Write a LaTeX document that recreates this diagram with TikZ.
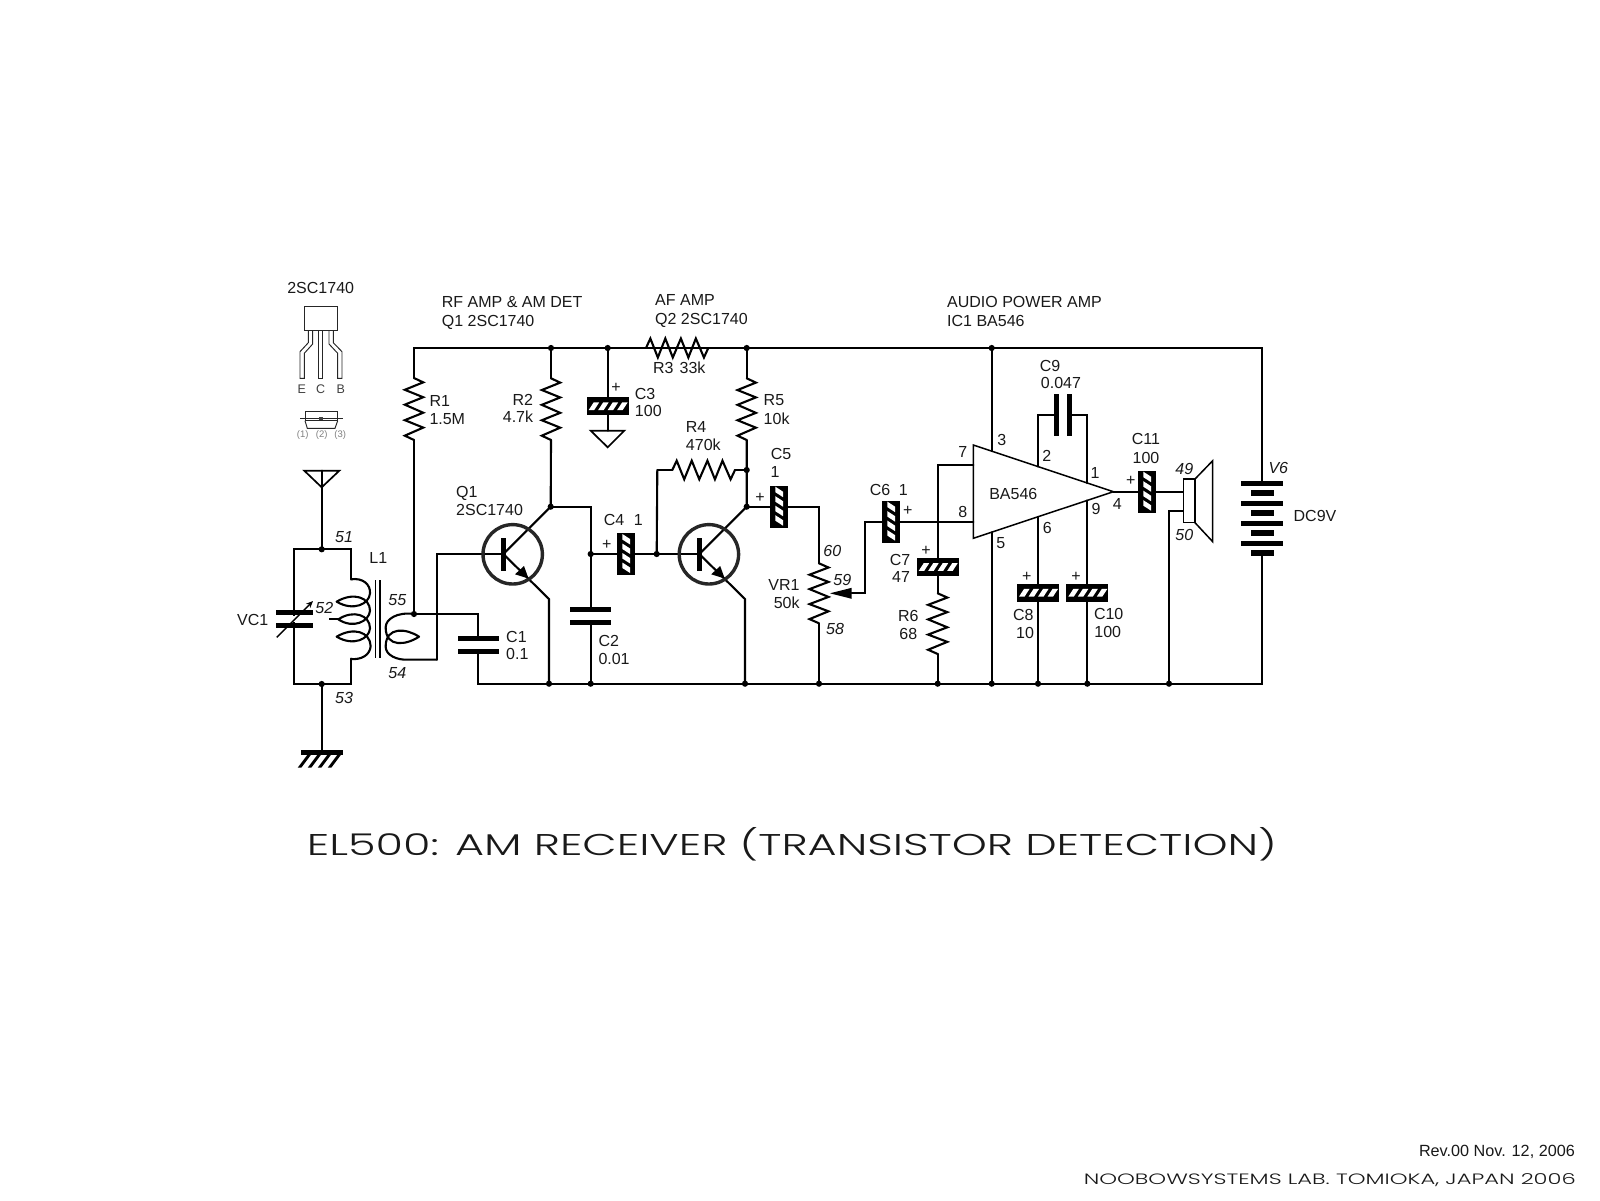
\documentclass[tikz,border=0pt]{standalone}
\usepackage{fontspec}
\usepackage{graphicx}
\setmainfont{Liberation Sans}
\newfontfamily\widefont{Poppins Light}
\usetikzlibrary{calc,arrows.meta}
\newcommand{\zig}[3]{\draw[wire,line join=miter] (#1) \foreach \t/\s in {0.07/1,0.19/-1,0.31/1,0.43/-1,0.56/1,0.68/-1,0.80/1,0.93/-1} {-- ($(#1)!\t!(#2)!\s*#3!90:(#2)$)} -- (#2);}
\tikzset{
  wire/.style={line width=2.1pt,line cap=round,line join=miter,black},
  thin wire/.style={line width=1.4pt,black},
  pkg/.style={line width=0.95pt,black!85},
  lab/.style={font=\fontsize{16}{16}\selectfont,inner sep=0pt,text height=11.5pt,text depth=0pt,text=black!90},
  pin/.style={lab,font=\fontsize{16}{16}\selectfont\itshape},
  plate/.style={fill=black},
  cap/.pic={
    \fill[white] (-20.7,-4) rectangle (20.7,4);
    \fill[plate] (-20.7,-8.8) rectangle (20.7,-3.8);
    \fill[plate] (-20.7,3.8) rectangle (20.7,8.8);
  },
  ecap/.pic={
    \fill[plate] (-21,-8.85) rectangle (21,8.85);
    \foreach \x in {-19,-9.5,0,9.5}
      \fill[white] (\x,3.85) -- (\x+5.5,3.85) -- (\x+10.5,-3.85) -- (\x+5,-3.85) -- cycle;
  },
  npn/.pic={
    \draw[line width=3.4pt,black!85] (0,0) circle (29.7pt);
    \fill[plate] (-11.7,-16.2) rectangle (-7,16.2);
    \fill[plate] (15.8,24.2) -- (2.3,20) -- (11.3,11.7) -- cycle;
  }
}
\begin{document}
\begin{tikzpicture}[x=1pt,y=-1pt]
\useasboundingbox (0,0) rectangle (1600,1200);
\fill[white] (0,0) rectangle (1600,1200);
% rails and junctions
\coordinate (tl) at (414,348);
\coordinate (j2) at (551,348);
\coordinate (j3) at (607.7,348);
\coordinate (r3a) at (646,348);
\coordinate (r3b) at (708.3,348);
\coordinate (j5) at (746.7,348);
\coordinate (j6) at (991.7,348);
\coordinate (tr) at (1261.7,348);
\coordinate (br) at (1261.7,683.7);
\coordinate (bl) at (478.3,683.7);
\coordinate (b1) at (549,683.7);
\coordinate (b2) at (590.7,683.7);
\coordinate (b3) at (745,683.7);
\coordinate (b4) at (819,683.7);
\coordinate (b5) at (937.7,683.7);
\coordinate (b6) at (991.7,683.7);
\coordinate (b7) at (1038,683.7);
\coordinate (b8) at (1087.3,683.7);
\coordinate (b9) at (1169,683.7);
% resistors
\coordinate (r1a) at (414,378); \coordinate (r1b) at (414,440);
\coordinate (r2a) at (551,378.3); \coordinate (r2b) at (551,440);
\coordinate (r5a) at (746.7,378.3); \coordinate (r5b) at (746.7,440);
\coordinate (r4a) at (672.3,470); \coordinate (r4b) at (735,470);
\coordinate (r4l) at (657.3,470); \coordinate (r4r) at (746.7,470);
\coordinate (vra) at (819,563.3); \coordinate (vrb) at (819,623.3);
\coordinate (r6a) at (937.7,593.3); \coordinate (r6b) at (937.7,654);
% front end
\coordinate (ant) at (321.7,470.7);
\coordinate (t51) at (321.7,549.3);
\coordinate (t53) at (321.7,684);
\coordinate (gnd) at (321.7,750);
\coordinate (lt) at (294,549.3); \coordinate (lb) at (294,684);
\coordinate (rt) at (350.7,549.3); \coordinate (rb) at (350.7,684);
\coordinate (rtc) at (350.7,579.3); \coordinate (rbc) at (350.7,658.7);
\coordinate (j55) at (414,614);
\coordinate (c1w) at (478.3,614);
\coordinate (s54) at (437.3,659.7);
\coordinate (q1w) at (437.3,554);
% transistors
\coordinate (q1) at (512.7,554.3);
\coordinate (q2) at (708.9,554.3);
\coordinate (q1b) at (503.3,554);
\coordinate (q2b) at (699.3,554);
\coordinate (q1c) at (550.7,506.7);
\coordinate (q2c) at (746.7,506.7);
\coordinate (q1e) at (549,599);
\coordinate (q2e) at (745,599);
\coordinate (n2) at (590.7,506.7);
\coordinate (j4) at (590.7,554);
\coordinate (j7) at (656.7,554);
% caps
\coordinate (c1) at (478.3,645);
\coordinate (c2) at (590.7,615.7);
\coordinate (c3) at (607.7,406.2);
\coordinate (c4) at (626.2,554);
\coordinate (c5) at (779.2,506.7);
\coordinate (c6) at (891.3,521.7);
\coordinate (c7) at (937.7,567);
\coordinate (c8) at (1038,592.8);
\coordinate (c9) at (1063,415);
\coordinate (c10) at (1087.3,592.8);
\coordinate (c11) at (1147.2,491.7);
\coordinate (g3) at (607.7,430.7);
% amp
\coordinate (ict) at (973.3,445);
\coordinate (icb) at (973.3,538.3);
\coordinate (ico) at (1113.3,491.7);
\coordinate (p7) at (973.3,464.7);
\coordinate (p7w) at (937.7,464.7);
\coordinate (p8) at (973.3,521.7);
\coordinate (p3) at (991.7,451.1);
\coordinate (p5) at (991.7,532.2);
\coordinate (p2) at (1038,466.6);
\coordinate (p1) at (1087.3,483);
\coordinate (p6) at (1038,516.8);
\coordinate (p9) at (1087.3,500.3);
\coordinate (c9l) at (1038,415);
\coordinate (c9r) at (1087.3,415);
\coordinate (wp) at (865,593.3);
\coordinate (wpc) at (865,521.7);
\coordinate (wpa) at (851.7,593.3);
\coordinate (c5r) at (819,506.7);
\coordinate (spk) at (1183.3,491.7);
\coordinate (spk2) at (1183.3,510.7);
\coordinate (spk2w) at (1169,510.7);
\coordinate (bat1) at (1261.7,481);
\coordinate (bat2) at (1261.7,552.7);
% wires
\draw[wire] (r1a) -- (r1a |- tl) -- (tr) -- (bat1);
\draw[wire] (bat2) -- (br) -- (bl) -- (c1w) -- (j55);
\draw[wire] (r1b) -- (j55);
\draw[wire] (j2) -- (r2a);
\draw[wire] (r2b) -- (q1c) -- (q1b);
\draw[wire] (q1c) -- (n2) -- (b2);
\draw[wire] (q1b) -- (q1e) -- (b1);
\draw[wire] (q1b) -- (q1w) -- (s54);
\draw[wire] (j4) -- (q2b);
\draw[wire] (j3) -- (g3);
\draw[wire] (j5) -- (r5a);
\draw[wire] (r5b) -- (q2c) -- (q2b) -- (q2e) -- (b3);
\draw[wire] (r4l) -- (j7);
\draw[wire] (r4l) -- (r4a);
\draw[wire] (r4b) -- (r4r);
\draw[wire] (q2c) -- (c5r) -- (vra);
\draw[wire] (vrb) -- (b4);
\draw[wire] (wpa) -- (wp) -- (wpc) -- (p8);
\draw[wire] (p7) -- (p7w) -- (r6a);
\draw[wire] (r6b) -- (b5);
\draw[wire] (j6) -- (p3);
\draw[wire] (p5) -- (b6);
\draw[wire] (p2) -- (c9l) -- (c9r) -- (p1);
\draw[wire] (p6) -- (b7);
\draw[wire] (p9) -- (b8);
\draw[wire] (ico) -- (spk);
\draw[wire] (spk2) -- (spk2w) -- (b9);
\draw[wire] (ant) -- (t51);
\draw[wire] (t53) -- (gnd);
\draw[wire] (rtc) -- (rt) -- (lt) -- (lb) -- (rb) -- (rbc);
\zig{r1a}{r1b}{9.2pt}
\zig{r2a}{r2b}{9.2pt}
\zig{r5a}{r5b}{9.2pt}
\zig{r3a}{r3b}{9.5pt}
\zig{r4a}{r4b}{9.3pt}
\zig{vra}{vrb}{9.5pt}
\zig{r6a}{r6b}{9.6pt}
% antenna and grounds
\draw[thin wire,line width=1.7pt] (304.3,470.7) -- (339.3,470.7) -- (321.7,487.3) -- cycle;
\draw[thin wire,line width=1.7pt] (590.7,430.7) -- (624.3,430.7) -- (607.7,447.3) -- cycle;
\fill[plate] (301,750) rectangle (342.7,755);
\foreach \x in {309,319,329,339} \fill[plate] (\x-1.8,755) -- (\x+1.8,755) -- (\x-7.7,767.7) -- (\x-11.3,767.7) -- cycle;
% coil (zoomed coordinates)
\begin{scope}[shift={(220,520)},x=0.33333pt,y=-0.33333pt]
\draw[wire,line cap=butt,line join=round] (392,178) .. controls (430,172) and (452,195) .. (450,220)
 .. controls (448,252) and (400,275) .. (350,245)
 .. controls (400,215) and (450,232) .. (450,272)
 .. controls (448,304) and (400,328) .. (355,298)
 .. controls (400,268) and (450,285) .. (450,325)
 .. controls (448,357) and (400,380) .. (350,350)
 .. controls (400,320) and (450,335) .. (452,378)
 .. controls (450,405) and (425,420) .. (392,417);
\draw[wire,line cap=butt] (328,298) -- (355,298);
\draw[wire,line cap=butt,line join=round] (582,282) .. controls (530,275) and (497,298) .. (497,322)
 .. controls (497,385) and (560,375) .. (597,350)
 .. controls (560,325) and (497,318) .. (497,380)
 .. controls (497,405) and (530,421) .. (565,419) -- (652,419);
\draw[thin wire] (467,180) -- (467,415);
\draw[thin wire] (480,180) -- (480,415);
\end{scope}
% VC1
\fill[white] (276,616) rectangle (312.7,622);
\fill[plate] (276,609.8) rectangle (312.7,614.8);
\fill[plate] (276,622.8) rectangle (312.7,627.8);
\draw[line width=1.4pt,-{Stealth[length=7pt,width=6pt]}] (276.7,637.3) -- (313,601);
% capacitors
\pic at (c1) {cap};
\pic at (c2) {cap};
\pic[rotate=90] at (c9) {cap};
\pic at (c3) {ecap};
\pic[rotate=90] at (c4) {ecap};
\pic[rotate=90] at (c5) {ecap};
\pic[rotate=90] at (c6) {ecap};
\pic at (c7) {ecap};
\pic at (c8) {ecap};
\pic at (c10) {ecap};
\pic[rotate=90] at (c11) {ecap};
% transistors
\pic at (q1) {npn};
\pic at (q2) {npn};
% wiper
\fill[plate] (830,593.3) -- (851.7,587.8) -- (851.7,598.8) -- cycle;
% amp
\draw[line width=1.5pt,line join=miter] (ict) -- (ico) -- (icb) -- cycle;
% speaker
\draw[line width=1.5pt,fill=white] (1183.3,479) rectangle (1195,522.7);
\draw[line width=1.5pt,line join=miter] (1195,479) -- (1212.7,460.7) -- (1212.7,541.7) -- (1195,522.7);
% battery
\foreach \y in {483.3,503.3,523.3,543.3} \fill[plate] (1241,\y-2.4) rectangle (1282.7,\y+2.4);
\foreach \y in {493,512.8,533,552.7} \fill[plate] (1251.3,\y-2.8) rectangle (1274,\y+2.8);
% dots
\foreach \n in {j2,j3,j5,j6,b1,b2,b3,b4,b5,b6,b7,b8,b9,t51,t53,j55,q1c,q2c,j4,j7,r4r}
  \fill (\n) circle (3.1pt);
% package
\draw[pkg,line width=1.1pt] (304.3,306.7) rectangle (337.3,330.7);
\draw[pkg] (308.3,330.7) -- (308.3,342.7) -- (300,351.7) -- (300,378.3) -- (304.3,378.3) -- (304.3,353.3) -- (312.7,344) -- (312.7,330.7);
\draw[pkg] (318.3,330.7) -- (318.3,378.3) -- (322.7,378.3) -- (322.7,330.7);
\draw[pkg] (329,330.7) -- (329,344) -- (337.7,353.3) -- (337.7,378.3) -- (342,378.3) -- (342,351.7) -- (333.3,342.7) -- (333.3,330.7);
\draw[pkg] (305,411) rectangle (337.7,420.7);
\draw[pkg] (305,420.7) -- (307.3,428.3) -- (335,428.3) -- (337.7,420.7);
\draw[pkg,line width=1.7pt] (300,418.5) -- (343.3,418.5);
\fill[black!75] (319.3,416.5) rectangle (323.3,420);
% labels
\node[lab] (tq) at (320.7,288) {2SC1740};
\node[lab,font=\fontsize{12.5}{13}\selectfont,text height=9pt,text=black!75] (te) at (301.7,389) {E};
\node[lab,font=\fontsize{12.5}{13}\selectfont,text height=9pt,text=black!75] (tc) at (320.7,389) {C};
\node[lab,font=\fontsize{12.5}{13}\selectfont,text height=9pt,text=black!75] (tb) at (340.7,389) {B};
\node[lab,font=\fontsize{9.5}{10}\selectfont,text height=7pt,text=black!50] (t1) at (302.7,434) {(1)};
\node[lab,font=\fontsize{9.5}{10}\selectfont,text height=7pt,text=black!50] (t2) at (321.7,434) {(2)};
\node[lab,font=\fontsize{9.5}{10}\selectfont,text height=7pt,text=black!50] (t3) at (340.3,434) {(3)};
\node[lab,anchor=west] (h1) at (441.7,302) {RF AMP \& AM DET};
\node[lab,anchor=west] (h2) at (441.7,320.7) {Q1 2SC1740};
\node[lab,anchor=west] (h3) at (655,300) {AF AMP};
\node[lab,anchor=west] (h4) at (655,318.3) {Q2 2SC1740};
\node[lab,anchor=west] (h5) at (947,302) {AUDIO POWER AMP};
\node[lab,anchor=west] (h6) at (947,320.7) {IC1 BA546};
\node[lab,anchor=west] (l1) at (429.3,400.7) {R1};
\node[lab,anchor=west] (l2) at (429.3,418.7) {1.5M};
\node[lab,anchor=east] (l3) at (533.3,399.3) {R2};
\node[lab,anchor=east] (l4) at (533.3,416.7) {4.7k};
\node[lab] (l5) at (645,393.3) {C3};
\node[lab] (l6) at (648.3,411) {100};
\node[lab] (l7) at (679.3,367.7) {R3\hspace{6pt}33k};
\node[lab] (l8) at (696,426.7) {R4};
\node[lab] (l9) at (703.3,445) {470k};
\node[lab,anchor=west] (l10) at (763.5,400) {R5};
\node[lab,anchor=west] (l11) at (763.5,418.5) {10k};
\node[lab,anchor=west] (l12) at (456,491.7) {Q1};
\node[lab,anchor=west] (l13) at (456,510) {2SC1740};
\node[lab] (l14) at (614,520) {C4};
\node[lab] (l15) at (638.3,520) {1};
\node[lab] (l16) at (606.7,544) {+};
\node[lab] (l17) at (616,386.7) {+};
\node[lab] (l18) at (760,496.7) {+};
\node[lab] (l19) at (781,454) {C5};
\node[lab] (l20) at (775,472) {1};
\node[lab] (l21) at (880,489.3) {C6};
\node[lab] (l22) at (903.3,489.3) {1};
\node[lab] (l23) at (907.7,510) {+};
\node[lab] (l24) at (926,550) {+};
\node[lab] (l25) at (900,559.3) {C7};
\node[lab] (l26) at (901,576.7) {47};
\node[lab] (l27) at (908.3,616) {R6};
\node[lab] (l28) at (908.3,634) {68};
\node[lab,anchor=west] (l29) at (506,636.7) {C1};
\node[lab,anchor=west] (l30) at (506,654) {0.1};
\node[lab,anchor=west] (l31) at (598.3,640.7) {C2};
\node[lab,anchor=west] (l32) at (598.3,659) {0.01};
\node[lab] (l33) at (252.7,620) {VC1};
\node[lab] (l34) at (378.3,558) {L1};
\node[lab] (l35) at (784,584.3) {VR1};
\node[lab] (l36) at (786.7,602.7) {50k};
\node[lab] (l37) at (1013.3,493.3) {BA546};
\node[lab] (l38) at (1050,366) {C9};
\node[lab] (l39) at (1061,382.3) {0.047};
\node[lab] (l40) at (1146,439) {C11};
\node[lab] (l41) at (1146,457.3) {100};
\node[lab] (l42) at (1130.7,479.3) {+};
\node[lab] (l43) at (1026.7,576) {+};
\node[lab] (l44) at (1076,576) {+};
\node[lab] (l45) at (1023.3,615) {C8};
\node[lab] (l46) at (1025,632.7) {10};
\node[lab] (l47) at (1108.7,614) {C10};
\node[lab] (l48) at (1107.7,632) {100};
\node[lab] (l49) at (1315,516) {DC9V};
\node[lab] (n3) at (1001.7,440) {3};
\node[lab] (n7) at (962.7,451.7) {7};
\node[lab] (n8) at (962.7,511.7) {8};
\node[lab] (n5) at (1000.7,542.3) {5};
\node[lab] (n2t) at (1046.7,456) {2};
\node[lab] (n1) at (1095,472.3) {1};
\node[lab] (n6) at (1047.3,527.3) {6};
\node[lab] (n9) at (1096,509) {9};
\node[lab] (n4) at (1117.3,504) {4};
\node[pin] (i51) at (344,536.7) {51};
\node[pin] (i52) at (324.3,608) {52};
\node[pin] (i53) at (344,698) {53};
\node[pin] (i54) at (397.3,673) {54};
\node[pin] (i55) at (397.3,600) {55};
\node[pin] (i60) at (832.3,551) {60};
\node[pin] (i59) at (842.3,579.3) {59};
\node[pin] (i58) at (835,628.3) {58};
\node[pin] (i49) at (1184.3,468.3) {49};
\node[pin] (i50) at (1184.3,535) {50};
\node[pin] (iv6) at (1278.3,467.3) {V6};
% titles
\node[inner sep=0pt,anchor=west,text=black!90] (title) at (306.7,844) {\resizebox{970pt}{\height}{\widefont\fontsize{30}{30}\selectfont EL500: AM RECEIVER (TRANSISTOR DETECTION)}};
\node[lab,anchor=east,font=\fontsize{16.2}{17}\selectfont] (rev) at (1575,1151) {Rev.00 Nov. 12, 2006};
\node[inner sep=0pt,anchor=east,text=black!90] (lab) at (1576,1180.5) {\resizebox{492pt}{\height}{\widefont\fontsize{15}{15}\selectfont NOOBOWSYSTEMS LAB. TOMIOKA, JAPAN 2006}};
\end{tikzpicture}
\end{document}
